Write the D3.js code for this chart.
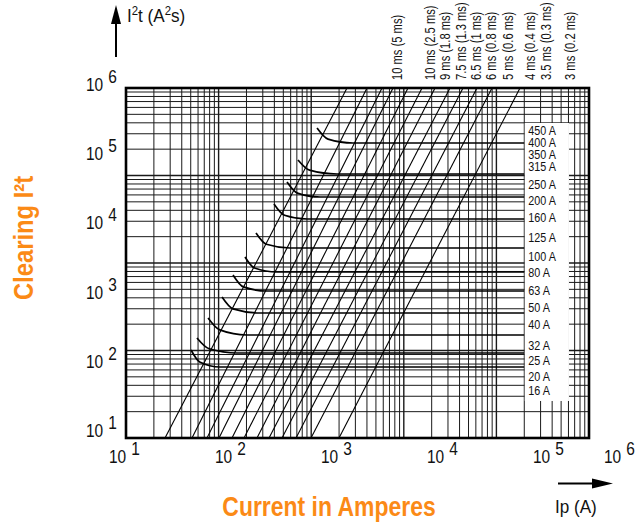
<!DOCTYPE html>
<html>
<head>
<meta charset="utf-8">
<script src="https://cdn.jsdelivr.net/npm/d3@7"></script>
<style>
  body { margin: 0; background: #fff; }
  svg { display: block; }
  text { font-family: "Liberation Sans", Arial, sans-serif; fill: #111; }
</style>
</head>
<body>
<svg id="chart" width="641" height="525"></svg>
<script>
// Decade tick values and their exponents
const decadeTicks = [1e1, 1e2, 1e3, 1e4, 1e5, 1e6];
const decadeExponents = ["1", "2", "3", "4", "5", "6"];

// Fuse ratings listed in the legend column, and the I²t level each label sits at
const ratings = ["450 A", "400 A", "350 A", "315 A", "250 A", "200 A", "160 A", "125 A", "100 A",
                 "80 A", "63 A", "50 A", "40 A", "32 A", "25 A", "20 A", "16 A"];
const ratingLevels = [252000, 170000, 114100, 77300, 42520, 25120, 14360, 7436, 3981,
                      2351, 1301, 743.6, 425.2, 213.1, 130.1, 76.9, 48.5];

// Clearing I²t curves: [Ip (A), I²t (A²s)] from the start of the bend to the plateau
const curveRatings = ["400 A", "250 A", "200 A", "160 A", "125 A", "80 A", "63 A", "50 A", "40 A", "32 A", "25 A"];
const curvePoints = [
  [[1156, 268300], [1520, 186000], [2826, 163800]],
  [[719.8, 93630], [960, 67000], [1900, 59070]],
  [[548, 45410], [710, 31500], [1245, 27730]],
  [[396.3, 22030], [515, 15200], [901, 13450]],
  [[253.5, 8484], [328, 5850], [590, 5179]],
  [[192.8, 3852], [244, 2680], [427.3, 2351]],
  [[143.1, 2131], [185, 1440], [333.4, 1259]],
  [[108.9, 1033], [143, 700], [280, 610.6]],
  [[76.9, 518], [103, 350], [202.8, 296]],
  [[58.4, 268.3], [79, 188], [158, 163.8]],
  [[50.4, 180.7], [62.5, 122], [103.5, 103.3]]
];

// Constant-time lines: Ip (A) where each crosses I²t = 10 and I²t = 1e6
const timeLineLow = [26.38, 51.6, 74.9, 101.0, 139.5, 188.1, 259.8, 350.3, 483.8, 685.5, 994.9, 1996];
const timeLineHigh = [2436, 4003, 5816, 7645, 11100, 15730, 21730, 31550, 43590, 61730, 89660, 179800];

// Pre-arcing / clearing time captions along the top, and the current each sits over
const timeLabels = ["10 ms (5 ms)", "10 ms (2.5 ms)", "9 ms (1.8 ms)", "7.5 ms (1.3 ms)", "6.5 ms (1 ms)",
                    "6 ms (0.8 ms)", "5 ms (0.6 ms)", "4 ms (0.4 ms)", "3.5 ms (0.3 ms)", "3 ms (0.2 ms)"];
const timeLabelIp = [8446, 19180, 27860, 41470, 60220, 87440, 133500, 230700, 343200, 623300];

const svg = d3.select("#chart");
const plot = { left: 126, top: 88, right: 589, bottom: 438 };
const orange = "#fb8a16";

const x = d3.scaleLog().domain([10, 1e6]).range([plot.left, plot.right]);
const y = d3.scaleLog().domain([10, 1e6]).range([plot.bottom, plot.top]);
// the printed log paper underneath uses four cycles vertically
const yPaper = d3.scaleLog().domain([1, 1e4]).range([plot.bottom, plot.top]);
// tick captions are set on their own spacing
const xCaption = d3.scaleLog().domain([10, 1e5, 1e6]).range([109, 533, 604]);
const yCaption = d3.scaleLog().domain([10, 1e6]).range([437, 91]);

// position, optional rotation and horizontal squeeze for condensed lettering
const place = (px, py, sx, rot) =>
  `translate(${px},${py})` + (rot ? ` rotate(${rot})` : "") + ` scale(${sx},1)`;

svg.append("defs").append("clipPath").attr("id", "plotClip")
  .append("rect").attr("x", plot.left).attr("y", plot.top)
  .attr("width", plot.right - plot.left).attr("height", plot.bottom - plot.top);

// log grid
const isDecade = d => Math.abs(Math.log10(d) - Math.round(Math.log10(d))) < 1e-9;
const grid = svg.append("g").attr("stroke", "#1a1a1a");
grid.selectAll("line.v").data(x.ticks()).join("line").attr("class", "v")
  .attr("x1", d => x(d)).attr("x2", d => x(d))
  .attr("y1", plot.top).attr("y2", plot.bottom)
  .attr("stroke-width", d => isDecade(d) ? 1.4 : 1);
grid.selectAll("line.h").data(yPaper.ticks()).join("line").attr("class", "h")
  .attr("y1", d => yPaper(d)).attr("y2", d => yPaper(d))
  .attr("x1", plot.left).attr("x2", plot.right)
  .attr("stroke-width", d => isDecade(d) ? 1.4 : 1);

// constant-time lines
const marks = svg.append("g").attr("clip-path", "url(#plotClip)");
marks.selectAll("line.t").data(timeLineLow).join("line").attr("class", "t")
  .attr("x1", d => x(d)).attr("y1", y(10))
  .attr("x2", (d, i) => x(timeLineHigh[i])).attr("y2", y(1e6))
  .attr("stroke", "#000").attr("stroke-width", 1.1);

// legend column bounds
const legend = { x0: x(2e5), x1: x(6e5), y0: y(Math.pow(10, 5.5)), y1: y(33.8) };

// clearing curves, each running flat to the legend column
const line = d3.line().x(d => x(d[0])).y(d => y(d[1])).curve(d3.curveMonotoneX);
marks.selectAll("path.c").data(curvePoints).join("path").attr("class", "c")
  .attr("d", pts => line(pts.concat([[2e5, pts[pts.length - 1][1]]])))
  .attr("fill", "none").attr("stroke", "#000").attr("stroke-width", 1.7);

// legend column
svg.append("rect").attr("x", legend.x0 + 0.5).attr("y", legend.y0)
  .attr("width", legend.x1 - legend.x0).attr("height", legend.y1 - legend.y0)
  .attr("fill", "#fff");
svg.append("g").selectAll("text").data(ratings).join("text")
  .attr("transform", (d, i) => place(legend.x0 + 4, y(ratingLevels[i]), 0.8))
  .attr("dy", "0.36em").attr("font-size", 13.5).text(d => d);

// frame
svg.append("rect").attr("x", plot.left).attr("y", plot.top)
  .attr("width", plot.right - plot.left).attr("height", plot.bottom - plot.top)
  .attr("fill", "none").attr("stroke", "#000").attr("stroke-width", 2.6);

// x tick captions
const xt = svg.append("g").selectAll("text").data(decadeTicks).join("text")
  .attr("transform", d => place(xCaption(d), 463, 0.86)).attr("font-size", 18);
xt.append("tspan").text("10");
xt.append("tspan").attr("dx", 6).attr("dy", -8).text((d, i) => decadeExponents[i]);

// y tick captions
const yt = svg.append("g").selectAll("text").data(decadeTicks).join("text")
  .attr("transform", d => place(86, yCaption(d), 0.86)).attr("font-size", 18);
yt.append("tspan").text("10");
yt.append("tspan").attr("dx", 6).attr("dy", -8).text((d, i) => decadeExponents[i]);

// time captions along the top
svg.append("g").selectAll("text").data(timeLabels).join("text")
  .attr("transform", (d, i) => place(x(timeLabelIp[i]) + 5, 80, 0.8, -90))
  .attr("font-size", 14).text(d => d);

// axis arrows and units
svg.append("line").attr("x1", 116).attr("y1", 57).attr("x2", 116).attr("y2", 20)
  .attr("stroke", "#000").attr("stroke-width", 2);
svg.append("path").attr("d", "M116,5 L111,24 L121,24 Z").attr("fill", "#000");
const yu = svg.append("text").attr("transform", place(127, 22, 0.95)).attr("font-size", 18);
yu.append("tspan").text("I");
yu.append("tspan").attr("dy", -7).attr("font-size", 12).text("2");
yu.append("tspan").attr("dy", 7).text("t (A");
yu.append("tspan").attr("dy", -7).attr("font-size", 12).text("2");
yu.append("tspan").attr("dy", 7).text("s)");

svg.append("line").attr("x1", 558).attr("y1", 483.5).attr("x2", 596).attr("y2", 483.5)
  .attr("stroke", "#000").attr("stroke-width", 2);
svg.append("path").attr("d", "M613,483.5 L592,478.5 L592,488.5 Z").attr("fill", "#000");
svg.append("text").attr("transform", place(555, 513, 0.95)).attr("font-size", 18).text("Ip (A)");

// axis titles
svg.append("text").attr("transform", place(329, 516, 0.85)).attr("text-anchor", "middle")
  .attr("font-size", 27).attr("font-weight", "bold").style("fill", orange)
  .text("Current in Amperes");
svg.append("text").attr("transform", place(33, 238, 0.85, -90))
  .attr("text-anchor", "middle").attr("font-size", 28).attr("font-weight", "bold")
  .style("fill", orange).text("Clearing I²t");
</script>
</body>
</html>
